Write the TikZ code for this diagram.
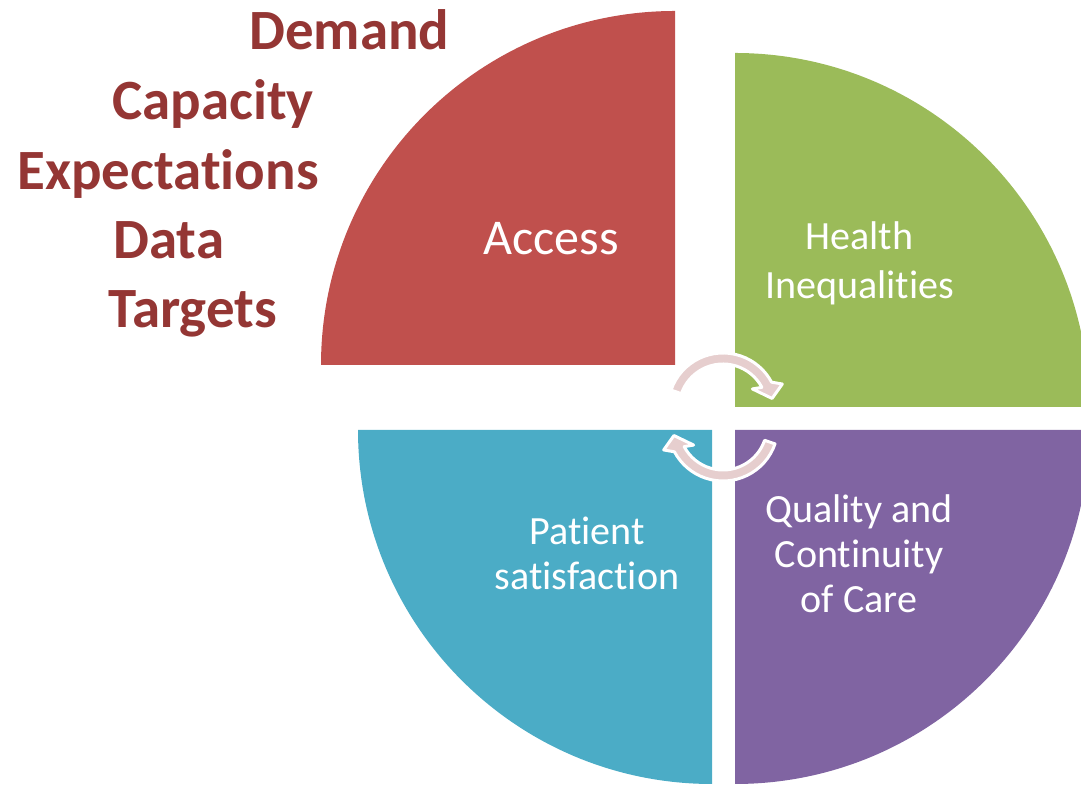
\documentclass[tikz,border=0pt]{standalone}
\usepackage{fontspec}
\setmainfont{Carlito}[Ligatures=NoCommon]
\definecolor{acc}{HTML}{C0504D}
\definecolor{heq}{HTML}{9BBB59}
\definecolor{qoc}{HTML}{8064A2}
\definecolor{pat}{HTML}{4BACC6}
\definecolor{wine}{HTML}{943634}
\definecolor{blush}{HTML}{E6CECE}
\tikzset{lbl/.style={text=white,align=center,inner sep=0pt,font=\fontsize{22.8}{25.6}\selectfont},
  item/.style={text=wine,anchor=base west,inner sep=0pt,font=\fontsize{32.4}{38}\selectfont\bfseries},
  cyc/.style={fill=blush,draw=white,line width=1.7pt,line join=round}}

\begin{document}
\begin{tikzpicture}[x=.02cm,y=.02cm]
\clip (0,0) rectangle (1081,786);
% four quarters, radius 354
\fill[acc] (675,421)--(321,421) arc[start angle=180,end angle=90,radius=354]--cycle;
\fill[heq] (735,379)--(735,733) arc[start angle=90,end angle=0,radius=354]--cycle;
\fill[qoc] (735,356)--(1089,356) arc[start angle=0,end angle=-90,radius=354]--cycle;
\fill[pat] (712,356)--(712,2) arc[start angle=-90,end angle=-180,radius=354]--cycle;
% the two turning arrows in the gap
\foreach \cx/\cy/\rot in {723/378/0,723/360/180}{
 \filldraw[cyc,shift={(\cx,\cy)},rotate=\rot] (161:55) arc[start angle=161,end angle=28,radius=55]
   --(22:64)--(11:50)--(33:35)--(28:44) arc[start angle=28,end angle=161,radius=44]--cycle;
}
\node[lbl,font=\fontsize{28.5}{32}\selectfont] (access) at (551,547) {Access};
\node[lbl,font=\fontsize{22.8}{27.9}\selectfont] (health) at (859.5,523) {Health\\Inequalities};
\node[lbl] (patient) at (587,233) {Patient\\satisfaction};
\node[lbl] (quality) at (859,232.5) {Quality and\\Continuity\\of Care};
\node[item] (demand) at (249,736) {Demand};
\node[item] (capacity) at (112,666) {Capacity};
\node[item] (expect) at (17,596) {Expectations};
\node[item] (data) at (113,527) {Data};
\node[item] (targets) at (108,458) {Targets};
\end{tikzpicture}
\end{document}
